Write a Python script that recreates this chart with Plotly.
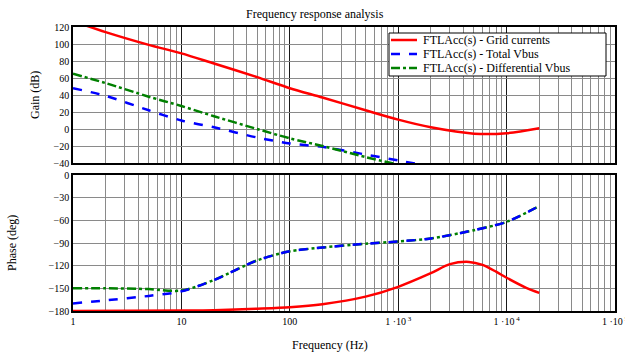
import plotly.graph_objects as go

# ---------------- data ----------------
freq_red_gain = [1, 2, 5, 10, 20, 50, 100, 200, 500, 1000, 2000, 5000, 10000, 20000]
gain_red = [127, 114, 99, 89, 77, 61, 48, 37, 22, 11, 2, -5.5, -5, 1]

freq_blue_gain = [1, 2, 5, 10, 20, 50, 100, 200, 500, 1000, 2000]
gain_blue = [48, 39, 22, 10, 2, -10, -17, -21, -30, -37, -44]

freq_green_gain = [1, 2, 5, 10, 20, 50, 100, 200, 500, 1000]
gain_green = [65, 54, 38, 27, 15, 0, -11, -20, -33, -42]

freq_phase = [1, 2, 5, 10, 20, 50, 100, 200, 500, 1000, 2000, 5000, 10000, 20000]
phase_blue = [-170, -166, -160, -154, -139, -113, -101, -96, -91, -88, -84, -73, -62, -41]
phase_green = [-150, -150, -151, -153, -139, -113, -101, -96, -91, -88, -84, -73, -62, -41]

freq_red_phase = [1, 10, 20, 50, 100, 200, 500, 1000, 2000, 3000, 4500, 6000, 8000, 10000, 15000, 20000]
phase_red = [-180, -179.5, -179, -177, -175, -171, -161, -148, -130, -118, -115, -119, -128, -136, -149, -156]

x_tickvals = [1, 10, 100, 1000, 10000, 100000]
x_ticktext = ["1", "10", "100", "1 ·10<sup> 3</sup>", "1 ·10<sup> 4</sup>", "1 ·10<sup> 5</sup>"]

series_names = ["FTLAcc(s) - Grid currents", "FTLAcc(s) - Total Vbus", "FTLAcc(s) - Differential Vbus"]

# ---------------- figure ----------------
RED, BLUE, GREEN = "#ff0000", "#0000ff", "#008000"
colors = [RED, BLUE, GREEN]
dashes = ["solid", "dash", "dashdot"]
LW = 2.5
SM = 0.8
font_family = "Liberation Serif"

W, H = 625, 354
ML, MR, MT, MB = 73, 10, 27, 43
PW, PH = W - ML - MR, H - MT - MB


def px_x(px):
    return (px - ML) / PW


def px_y(py):
    return (H - MB - py) / PH


fig = go.Figure()
fig.add_trace(go.Scatter(x=freq_red_gain, y=gain_red, mode="lines", name=series_names[0],
                         line=dict(color=RED, width=LW, shape="spline", smoothing=SM), xaxis="x", yaxis="y"))
fig.add_trace(go.Scatter(x=freq_blue_gain, y=gain_blue, mode="lines", name=series_names[1],
                         line=dict(color=BLUE, width=LW, dash="dash", shape="spline", smoothing=SM), xaxis="x", yaxis="y"))
fig.add_trace(go.Scatter(x=freq_green_gain, y=gain_green, mode="lines", name=series_names[2],
                         line=dict(color=GREEN, width=LW, dash="dashdot", shape="spline", smoothing=SM), xaxis="x", yaxis="y"))

fig.add_trace(go.Scatter(x=freq_red_phase, y=phase_red, mode="lines", name=series_names[0],
                         line=dict(color=RED, width=LW, shape="spline", smoothing=SM), xaxis="x2", yaxis="y2"))
fig.add_trace(go.Scatter(x=freq_phase, y=phase_green, mode="lines", name=series_names[2],
                         line=dict(color=GREEN, width=LW, dash="dashdot", shape="spline", smoothing=SM), xaxis="x2", yaxis="y2"))
fig.add_trace(go.Scatter(x=freq_phase, y=phase_blue, mode="lines", name=series_names[1],
                         line=dict(color=BLUE, width=LW, dash="dash", shape="spline", smoothing=SM), xaxis="x2", yaxis="y2"))

minor_vals = [m * 10 ** d for d in range(5) for m in range(2, 10)]

xcommon = dict(type="log", range=[0, 5], tickvals=x_tickvals, ticktext=x_ticktext,
               showgrid=True, gridcolor="#1a1a1a", gridwidth=1,
               minor=dict(tickvals=minor_vals, showgrid=True, gridcolor="#8a8a8a", gridwidth=1, ticks=""),
               showline=True, mirror=True, linecolor="black", linewidth=1.5,
               ticks="", zeroline=False, ticklabeloverflow="allow", automargin=False,
               tickfont=dict(family=font_family, size=10, color="black"))

ycommon = dict(showgrid=True, gridcolor="#8a8a8a", gridwidth=1,
               showline=True, mirror=True, linecolor="black", linewidth=1.5,
               ticks="", zeroline=False, automargin=False,
               tickfont=dict(family=font_family, size=10, color="black"))

# legend box (drawn compactly like the reference)
leg_x0, leg_x1, leg_y0, leg_y1 = 389, 606, 33, 76
leg_rows = [40, 54, 68]
shapes = [dict(type="rect", xref="paper", yref="paper",
               x0=px_x(leg_x0), x1=px_x(leg_x1), y0=px_y(leg_y1), y1=px_y(leg_y0),
               fillcolor="white", line=dict(color="black", width=1), layer="above")]
annotations = []
for name, col, dsh, ry in zip(series_names, colors, dashes, leg_rows):
    shapes.append(dict(type="line", xref="paper", yref="paper",
                       x0=px_x(391), x1=px_x(417), y0=px_y(ry), y1=px_y(ry),
                       line=dict(color=col, width=LW, dash=dsh), layer="above"))
    annotations.append(dict(text=name, xref="paper", yref="paper", x=px_x(421), y=px_y(ry),
                            showarrow=False, xanchor="left", yanchor="middle",
                            font=dict(size=12, family=font_family, color="black")))

annotations += [
    dict(text="Frequency response analysis", xref="paper", yref="paper",
         x=px_x(315), y=px_y(14), showarrow=False,
         font=dict(size=12, family=font_family), xanchor="center", yanchor="middle"),
    dict(text="Frequency (Hz)", xref="paper", yref="paper",
         x=px_x(330), y=px_y(345), showarrow=False,
         font=dict(size=12, family=font_family), xanchor="center", yanchor="middle"),
    dict(text="Gain (dB)", xref="paper", yref="paper", textangle=-90,
         x=px_x(35), y=px_y(95), showarrow=False,
         font=dict(size=12, family=font_family), xanchor="center", yanchor="middle"),
    dict(text="Phase (deg)", xref="paper", yref="paper", textangle=-90,
         x=px_x(12), y=px_y(243), showarrow=False,
         font=dict(size=12, family=font_family), xanchor="center", yanchor="middle"),
]

fig.update_layout(
    width=W, height=H,
    margin=dict(l=ML, r=MR, t=MT, b=MB),
    paper_bgcolor="white", plot_bgcolor="white",
    font=dict(family=font_family, color="black"),
    xaxis=dict(**xcommon, domain=[0, 1], anchor="y", showticklabels=False),
    yaxis=dict(**ycommon, domain=[px_y(163), 1], anchor="x", range=[-40, 120], dtick=20),
    xaxis2=dict(**xcommon, domain=[0, 1], anchor="y2", matches="x", showticklabels=True),
    yaxis2=dict(**ycommon, domain=[0, px_y(175)], anchor="x2", range=[-180, 0], dtick=30),
    showlegend=False,
    shapes=shapes,
    annotations=annotations,
)

fig.write_html("out.html", config={"displayModeBar": False},
               post_script="document.body.style.margin='0px';")
